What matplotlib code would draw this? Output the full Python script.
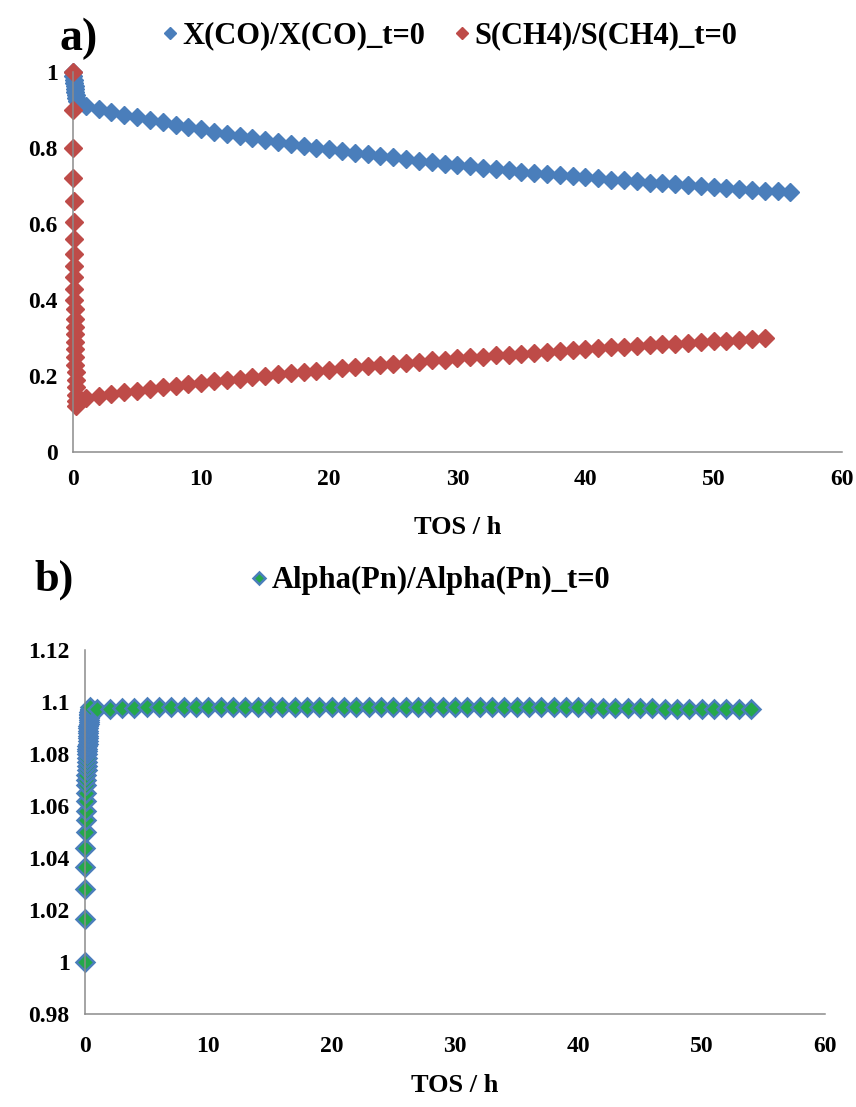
import matplotlib
matplotlib.use("Agg")
from matplotlib import pyplot as plt
import numpy as np

# --- a) X(CO) and S(CH4), normalised to t=0 ---
t_co = [0, 0.03, 0.06, 0.09, 0.12, 0.15, 0.18, 0.21, 0.25, 0.3,
        1, 2, 3, 4, 5, 6, 7, 8, 9, 10, 11, 12, 13, 14, 15, 16, 17, 18, 19, 20,
        21, 22, 23, 24, 25, 26, 27, 28, 29, 30, 31, 32, 33, 34, 35, 36, 37, 38,
        39, 40, 41, 42, 43, 44, 45, 46, 47, 48, 49, 50, 51, 52, 53, 54, 55, 56]
x_co = [1.0, 0.99, 0.98, 0.972, 0.964, 0.956, 0.948, 0.94, 0.932, 0.924,
        0.910, 0.902, 0.895, 0.888, 0.881, 0.874, 0.867, 0.861, 0.855, 0.849,
        0.843, 0.837, 0.832, 0.826, 0.821, 0.816, 0.811, 0.806, 0.801, 0.796,
        0.792, 0.788, 0.783, 0.779, 0.775, 0.771, 0.767, 0.763, 0.759, 0.755,
        0.752, 0.748, 0.745, 0.741, 0.738, 0.735, 0.732, 0.729, 0.726, 0.723,
        0.720, 0.717, 0.715, 0.712, 0.709, 0.707, 0.704, 0.702, 0.700, 0.697,
        0.695, 0.693, 0.690, 0.688, 0.686, 0.684]

t_ch4 = [0, 0.01, 0.02, 0.03, 0.04, 0.05, 0.06, 0.07, 0.08, 0.09, 0.1, 0.11,
         0.12, 0.13, 0.14, 0.15, 0.16, 0.17, 0.18, 0.19, 0.2, 0.21, 0.22, 0.23,
         0.24, 0.25,
         1, 2, 3, 4, 5, 6, 7, 8, 9, 10, 11, 12, 13, 14, 15, 16, 17, 18, 19, 20,
         21, 22, 23, 24, 25, 26, 27, 28, 29, 30, 31, 32, 33, 34, 35, 36, 37, 38,
         39, 40, 41, 42, 43, 44, 45, 46, 47, 48, 49, 50, 51, 52, 53, 54]
s_ch4 = [1.0, 0.90, 0.80, 0.72, 0.66, 0.605, 0.56, 0.52, 0.49, 0.46, 0.43,
         0.40, 0.375, 0.35, 0.33, 0.31, 0.29, 0.27, 0.25, 0.23, 0.21, 0.19,
         0.17, 0.15, 0.135, 0.12,
         0.142, 0.147, 0.152, 0.157, 0.161, 0.165, 0.170, 0.174, 0.178, 0.182,
         0.186, 0.190, 0.193, 0.197, 0.200, 0.204, 0.207, 0.211, 0.214, 0.217,
         0.220, 0.223, 0.226, 0.229, 0.232, 0.235, 0.238, 0.241, 0.243, 0.246,
         0.249, 0.251, 0.254, 0.256, 0.259, 0.261, 0.264, 0.266, 0.268, 0.271,
         0.273, 0.275, 0.277, 0.279, 0.281, 0.283, 0.285, 0.287, 0.289, 0.291,
         0.293, 0.295, 0.297, 0.299]

# --- b) chain growth probability alpha, normalised to t=0 ---
t_alpha = [0, 0.01, 0.02, 0.03, 0.04, 0.05, 0.06, 0.07, 0.08, 0.09, 0.1,
           0.11, 0.12, 0.13, 0.14, 0.15, 0.16, 0.17, 0.18, 0.19, 0.2, 0.21,
           0.22, 0.23, 0.24, 0.25, 0.26, 0.27, 0.28, 0.29, 0.3, 0.31, 0.32,
           0.33, 0.34, 0.35, 0.36, 0.37, 0.38, 0.39, 0.4,
           1, 2, 3, 4, 5, 6, 7, 8, 9, 10, 11, 12, 13, 14, 15, 16, 17, 18, 19, 20,
           21, 22, 23, 24, 25, 26, 27, 28, 29, 30, 31, 32, 33, 34, 35, 36, 37, 38,
           39, 40, 41, 42, 43, 44, 45, 46, 47, 48, 49, 50, 51, 52, 53, 54]
alpha = [1.000, 1.0165, 1.028, 1.0365, 1.044, 1.050, 1.0545, 1.058, 1.062,
         1.065, 1.068, 1.070, 1.072, 1.074, 1.0755, 1.077, 1.0785, 1.080,
         1.081, 1.082, 1.083, 1.084, 1.085, 1.086, 1.087, 1.088, 1.089, 1.090,
         1.0908, 1.0915, 1.0922, 1.093, 1.0937, 1.0943, 1.095, 1.0955, 1.096,
         1.0965, 1.097, 1.0975, 1.098,
         1.0972, 1.0975, 1.0977, 1.0978, 1.0979, 1.0979, 1.098, 1.098, 1.098,
         1.098, 1.098, 1.098, 1.098, 1.098, 1.098, 1.098, 1.098, 1.098, 1.098,
         1.098, 1.098, 1.098, 1.098, 1.098, 1.098, 1.098, 1.098, 1.098, 1.098,
         1.098, 1.098, 1.098, 1.098, 1.098, 1.098, 1.098, 1.098, 1.098, 1.0979,
         1.0979, 1.0978, 1.0978, 1.0977, 1.0977, 1.0976, 1.0976, 1.0975,
         1.0975, 1.0975, 1.0975, 1.0975, 1.0975, 1.0975, 1.0975]

a_yticks = [0, 0.2, 0.4, 0.6, 0.8, 1]
b_yticks = [0.98, 1, 1.02, 1.04, 1.06, 1.08, 1.1, 1.12]
x_ticks = [0, 10, 20, 30, 40, 50, 60]

blue = "#4A7EBB"
red = "#BE4B48"
green = "#24A84A"
grey = "#8C8C8C"

plt.rcParams['font.family'] = ['Liberation Serif', 'DejaVu Serif']
plt.rcParams['font.weight'] = 'bold'

fig = plt.figure(figsize=(8.56, 11.07), dpi=100)
ax_a = fig.add_axes([0.0853, 0.5917, 0.898, 0.3433])
ax_b = fig.add_axes([0.0993, 0.0840, 0.8645, 0.3288])


def style_axes(ax, yticks, ylim):
    ax.set_xlim(0, 60)
    ax.set_ylim(*ylim)
    ax.set_xticks(x_ticks)
    ax.set_yticks(yticks)
    ax.set_yticklabels([f"{v:g}" for v in yticks])
    for side in ("top", "right"):
        ax.spines[side].set_visible(False)
    for side in ("left", "bottom"):
        ax.spines[side].set_color(grey)
        ax.spines[side].set_linewidth(1.1)
    ax.tick_params(length=0, labelsize=17)
    ax.tick_params(axis="y", pad=11)
    ax.tick_params(axis="x", pad=12)
    for lab in ax.get_xticklabels() + ax.get_yticklabels():
        lab.set_fontweight("bold")


ms = 9
l_co, = ax_a.plot(t_co, x_co, "D", color=blue, ms=ms, mec=blue, clip_on=False)
l_ch4, = ax_a.plot(t_ch4, s_ch4, "D", color=red, ms=ms, mec=red, clip_on=False)
style_axes(ax_a, a_yticks, (0, 1))
ax_a.set_xlabel("TOS / h", fontsize=19, fontweight="bold", labelpad=19)
ax_a.legend([l_co, l_ch4], ["X(CO)/X(CO)_t=0", "S(CH4)/S(CH4)_t=0"],
            ncol=2, frameon=False, fontsize=22, markerscale=0.7,
            handlelength=0.4, handletextpad=0.2, columnspacing=1.0,
            loc="center left", bbox_to_anchor=(0.083, 1.095))

l_al, = ax_b.plot(t_alpha, alpha, "D", color=green, ms=ms, mec=blue, mew=1.8,
                  clip_on=False)
style_axes(ax_b, b_yticks, (0.98, 1.12))
ax_b.tick_params(axis="x", pad=16)
ax_b.set_xlabel("TOS / h", fontsize=19, fontweight="bold", labelpad=12)
ax_b.legend([l_al], ["Alpha(Pn)/Alpha(Pn)_t=0"], frameon=False, fontsize=22,
            markerscale=0.7, handlelength=0.4, handletextpad=0.2,
            loc="center left", bbox_to_anchor=(0.19, 1.19))

fig.text(0.070, 0.965, "a)", fontsize=33, fontweight="bold", va="center")
fig.text(0.040, 0.476, "b)", fontsize=32, fontweight="bold", va="center")

fig.savefig("out.png", dpi=100, facecolor="white")
